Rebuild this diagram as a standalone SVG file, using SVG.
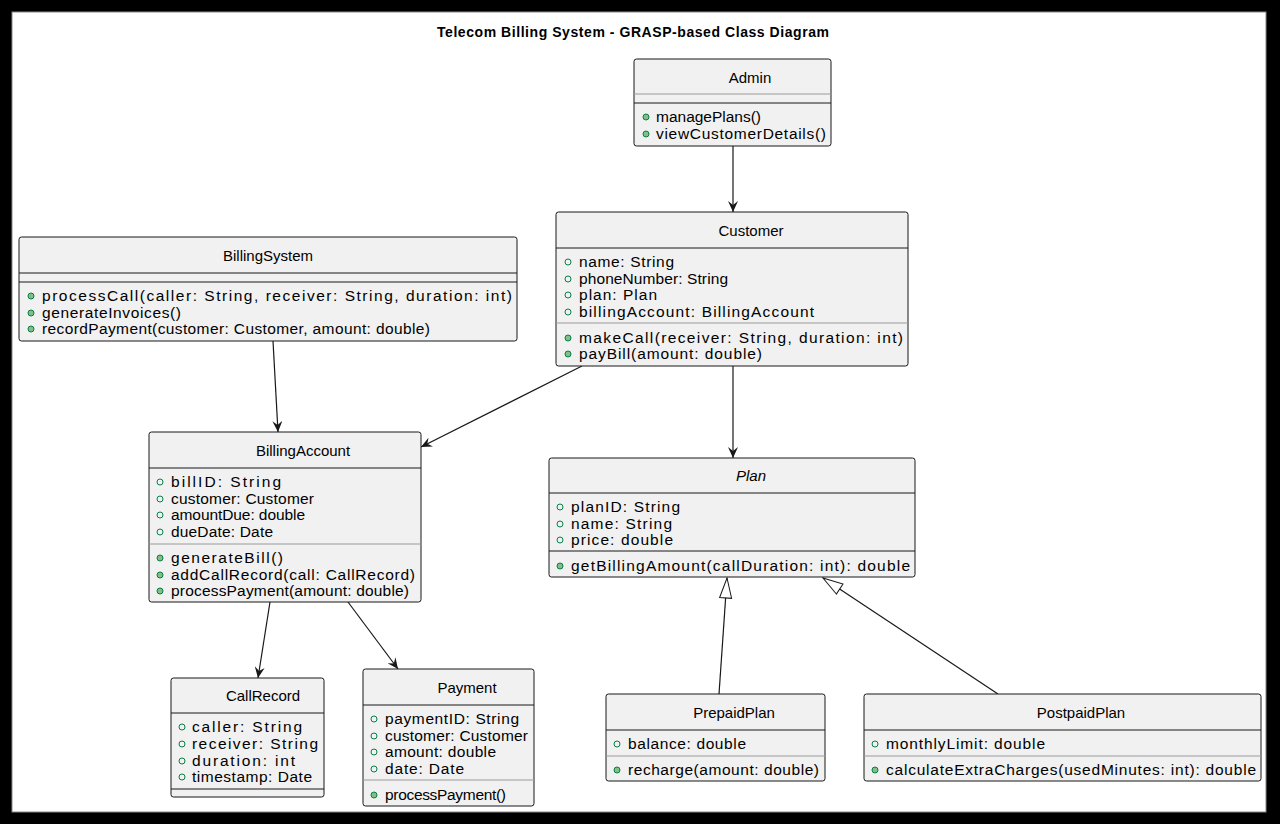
<svg xmlns="http://www.w3.org/2000/svg" width="1280" height="824" viewBox="0 0 1280 824">
<style>
  .box{fill:#F1F1F1;stroke:#181818;stroke-width:1}
  .sep{stroke:#181818;stroke-width:1}
  .sep2{stroke:#9a9a9a;stroke-width:1}
  .name{font-family:"Liberation Sans",Arial,sans-serif;font-size:15px;fill:#000;text-anchor:middle}
  .mem{font-family:"Liberation Sans",Arial,sans-serif;font-size:15.5px;fill:#000}
  .attr{fill:none;stroke:#038048;stroke-width:1}
  .meth{fill:#84BE84;stroke:#038048;stroke-width:1}
  .edge{fill:none;stroke:#181818;stroke-width:1.2}
  .title{font-family:"Liberation Sans",Arial,sans-serif;font-size:14px;font-weight:bold;fill:#000;text-anchor:middle}
</style>
<defs>
  <marker id="arr" viewBox="0 0 12 10" refX="11" refY="5" markerWidth="12" markerHeight="10" markerUnits="userSpaceOnUse" orient="auto">
    <path d="M0,0 L11,5 L0,10 L4,5 Z" fill="#181818"/>
  </marker>
  <marker id="tri" viewBox="0 0 22 14" refX="21" refY="7" markerWidth="22" markerHeight="14" markerUnits="userSpaceOnUse" orient="auto">
    <path d="M1,1 L21,7 L1,13 Z" fill="#fff" stroke="#181818" stroke-width="1"/>
  </marker>
</defs>
<rect x="0" y="0" width="1280" height="824" fill="#000"/>
<rect x="12" y="12" width="1254" height="800" fill="#fff" stroke="#888" stroke-width="1"/>
<text class="title" x="633" y="37" textLength="392">Telecom Billing System - GRASP-based Class Diagram</text>

<g id="edges">
  <line class="edge" x1="733" y1="146" x2="733" y2="212" marker-end="url(#arr)"/>
  <line class="edge" x1="273" y1="341" x2="278" y2="432" marker-end="url(#arr)"/>
  <line class="edge" x1="582" y1="366" x2="421" y2="447" marker-end="url(#arr)"/>
  <line class="edge" x1="733" y1="366" x2="733" y2="458" marker-end="url(#arr)"/>
  <line class="edge" x1="270" y1="602" x2="258" y2="678" marker-end="url(#arr)"/>
  <line class="edge" x1="348" y1="602" x2="398" y2="669" marker-end="url(#arr)"/>
  <line class="edge" x1="719" y1="694" x2="727" y2="578" marker-end="url(#tri)"/>
  <line class="edge" x1="998" y1="694" x2="823" y2="578" marker-end="url(#tri)"/>
</g>

<g id="Admin">
  <rect class="box" x="634" y="59" width="197" height="87" rx="2.5"/>
  <text class="name" x="750" y="83">Admin</text>
  <line class="sep2" x1="634" y1="94" x2="831" y2="94"/>
  <line class="sep" x1="634" y1="103" x2="831" y2="103"/>
  <circle class="meth" cx="646" cy="117" r="3"/>
  <text class="mem" x="656" y="122" textLength="105">managePlans()</text>
  <circle class="meth" cx="646" cy="134" r="3"/>
  <text class="mem" x="656" y="139" textLength="170">viewCustomerDetails()</text>
</g>

<g id="Customer">
  <rect class="box" x="556" y="212" width="352" height="154" rx="2.5"/>
  <text class="name" x="751" y="236">Customer</text>
  <line class="sep" x1="556" y1="248" x2="908" y2="248"/>
  <circle class="attr" cx="568" cy="262" r="3"/>
  <text class="mem" x="579" y="267" textLength="95">name: String</text>
  <circle class="attr" cx="568" cy="279" r="3"/>
  <text class="mem" x="579" y="284" textLength="149">phoneNumber: String</text>
  <circle class="attr" cx="568" cy="295" r="3"/>
  <text class="mem" x="579" y="300" textLength="78">plan: Plan</text>
  <circle class="attr" cx="568" cy="312" r="3"/>
  <text class="mem" x="579" y="317" textLength="235">billingAccount: BillingAccount</text>
  <line class="sep2" x1="556" y1="323" x2="908" y2="323"/>
  <circle class="meth" cx="568" cy="338" r="3"/>
  <text class="mem" x="579" y="343" textLength="324">makeCall(receiver: String, duration: int)</text>
  <circle class="meth" cx="568" cy="354" r="3"/>
  <text class="mem" x="579" y="359" textLength="183">payBill(amount: double)</text>
</g>

<g id="BillingSystem">
  <rect class="box" x="19" y="237" width="498" height="104" rx="2.5"/>
  <text class="name" x="268" y="261">BillingSystem</text>
  <line class="sep" x1="19" y1="273" x2="517" y2="273"/>
  <line class="sep" x1="19" y1="282" x2="517" y2="282"/>
  <circle class="meth" cx="31" cy="296" r="3"/>
  <text class="mem" x="42" y="301" textLength="470">processCall(caller: String, receiver: String, duration: int)</text>
  <circle class="meth" cx="31" cy="313" r="3"/>
  <text class="mem" x="42" y="318" textLength="139">generateInvoices()</text>
  <circle class="meth" cx="31" cy="329" r="3"/>
  <text class="mem" x="42" y="334" textLength="388">recordPayment(customer: Customer, amount: double)</text>
</g>

<g id="BillingAccount">
  <rect class="box" x="149" y="432" width="272" height="170" rx="2.5"/>
  <text class="name" x="303" y="456">BillingAccount</text>
  <line class="sep" x1="149" y1="468" x2="421" y2="468"/>
  <circle class="attr" cx="160" cy="482" r="3"/>
  <text class="mem" x="171" y="487" textLength="110">billID: String</text>
  <circle class="attr" cx="160" cy="499" r="3"/>
  <text class="mem" x="171" y="504" textLength="143">customer: Customer</text>
  <circle class="attr" cx="160" cy="515" r="3"/>
  <text class="mem" x="171" y="520" textLength="134">amountDue: double</text>
  <circle class="attr" cx="160" cy="532" r="3"/>
  <text class="mem" x="171" y="537" textLength="102">dueDate: Date</text>
  <line class="sep2" x1="149" y1="544" x2="421" y2="544"/>
  <circle class="meth" cx="160" cy="558" r="3"/>
  <text class="mem" x="171" y="563" textLength="112">generateBill()</text>
  <circle class="meth" cx="160" cy="575" r="3"/>
  <text class="mem" x="171" y="580" textLength="244">addCallRecord(call: CallRecord)</text>
  <circle class="meth" cx="160" cy="591" r="3"/>
  <text class="mem" x="171" y="596" textLength="238">processPayment(amount: double)</text>
</g>

<g id="Plan">
  <rect class="box" x="549" y="458" width="366" height="119" rx="2.5"/>
  <text class="name" x="751" y="481" font-style="italic">Plan</text>
  <line class="sep" x1="549" y1="493" x2="915" y2="493"/>
  <circle class="attr" cx="560" cy="507" r="3"/>
  <text class="mem" x="571" y="512" textLength="109">planID: String</text>
  <circle class="attr" cx="560" cy="524" r="3"/>
  <text class="mem" x="571" y="529" textLength="101">name: String</text>
  <circle class="attr" cx="560" cy="540" r="3"/>
  <text class="mem" x="571" y="545" textLength="102">price: double</text>
  <line class="sep" x1="549" y1="551" x2="915" y2="551"/>
  <circle class="meth" cx="560" cy="566" r="3"/>
  <text class="mem" x="571" y="571" textLength="339">getBillingAmount(callDuration: int): double</text>
</g>

<g id="CallRecord">
  <rect class="box" x="171" y="678" width="153" height="119" rx="2.5"/>
  <text class="name" x="263" y="701">CallRecord</text>
  <line class="sep" x1="171" y1="713" x2="324" y2="713"/>
  <circle class="attr" cx="182" cy="727" r="3"/>
  <text class="mem" x="192" y="732" textLength="110">caller: String</text>
  <circle class="attr" cx="182" cy="744" r="3"/>
  <text class="mem" x="192" y="749" textLength="126">receiver: String</text>
  <circle class="attr" cx="182" cy="761" r="3"/>
  <text class="mem" x="192" y="766" textLength="103">duration: int</text>
  <circle class="attr" cx="182" cy="777" r="3"/>
  <text class="mem" x="192" y="782" textLength="120">timestamp: Date</text>
  <line class="sep" x1="171" y1="789" x2="324" y2="789"/>
</g>

<g id="Payment">
  <rect class="box" x="363" y="669" width="171" height="137" rx="2.5"/>
  <text class="name" x="467" y="693">Payment</text>
  <line class="sep" x1="363" y1="705" x2="534" y2="705"/>
  <circle class="attr" cx="374" cy="719" r="3"/>
  <text class="mem" x="385" y="724" textLength="134">paymentID: String</text>
  <circle class="attr" cx="374" cy="736" r="3"/>
  <text class="mem" x="385" y="741" textLength="143">customer: Customer</text>
  <circle class="attr" cx="374" cy="752" r="3"/>
  <text class="mem" x="385" y="757" textLength="111">amount: double</text>
  <circle class="attr" cx="374" cy="769" r="3"/>
  <text class="mem" x="385" y="774" textLength="79">date: Date</text>
  <line class="sep2" x1="363" y1="780" x2="534" y2="780"/>
  <circle class="meth" cx="374" cy="795" r="3"/>
  <text class="mem" x="385" y="800" textLength="121">processPayment()</text>
</g>

<g id="PrepaidPlan">
  <rect class="box" x="606" y="694" width="219" height="87" rx="2.5"/>
  <text class="name" x="734" y="718">PrepaidPlan</text>
  <line class="sep" x1="606" y1="730" x2="825" y2="730"/>
  <circle class="attr" cx="617" cy="744" r="3"/>
  <text class="mem" x="628" y="749" textLength="118">balance: double</text>
  <line class="sep2" x1="606" y1="756" x2="825" y2="756"/>
  <circle class="meth" cx="617" cy="770" r="3"/>
  <text class="mem" x="628" y="775" textLength="191">recharge(amount: double)</text>
</g>

<g id="PostpaidPlan">
  <rect class="box" x="864" y="694" width="397" height="87" rx="2.5"/>
  <text class="name" x="1081" y="718">PostpaidPlan</text>
  <line class="sep" x1="864" y1="730" x2="1261" y2="730"/>
  <circle class="attr" cx="875" cy="744" r="3"/>
  <text class="mem" x="886" y="749" textLength="159">monthlyLimit: double</text>
  <line class="sep2" x1="864" y1="756" x2="1261" y2="756"/>
  <circle class="meth" cx="875" cy="770" r="3"/>
  <text class="mem" x="886" y="775" textLength="370">calculateExtraCharges(usedMinutes: int): double</text>
</g>
</svg>
